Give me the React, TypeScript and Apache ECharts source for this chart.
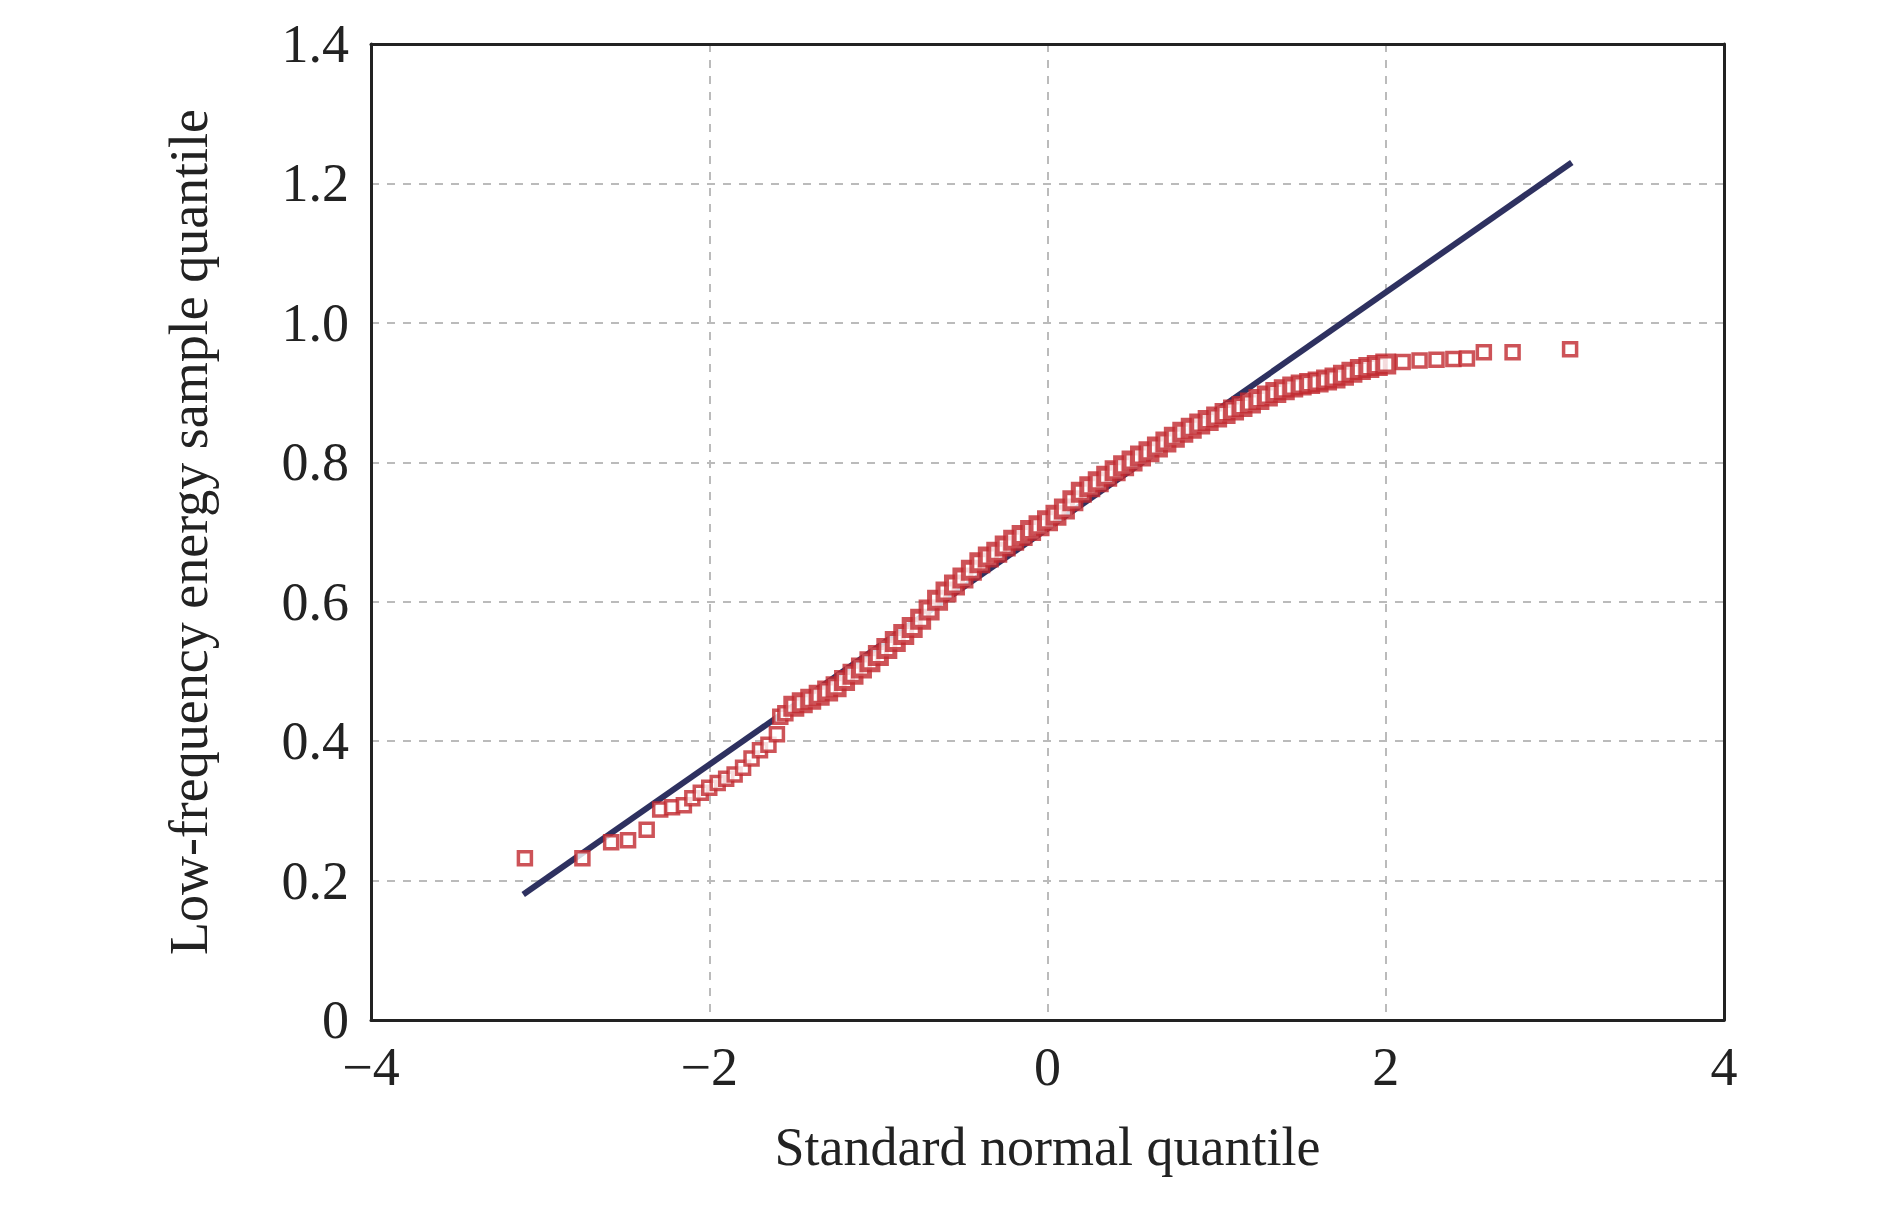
import { useEffect, useRef } from "react";
import * as echarts from "echarts";

const xTail = [-3.09, -2.75, -2.58, -2.48, -2.37, -2.29, -2.22, -2.15, -2.1, -2.05, -2.0, -1.95, -1.9, -1.85, -1.8, -1.75, -1.7, -1.65, -1.6, -1.58, -1.55];
const yTail = [0.232, 0.232, 0.255, 0.258, 0.273, 0.302, 0.305, 0.308, 0.318, 0.326, 0.333, 0.34, 0.346, 0.352, 0.362, 0.375, 0.387, 0.395, 0.41, 0.435, 0.44];

const xMid = [
  -1.5, -1.45, -1.4, -1.35, -1.3, -1.25, -1.2, -1.15, -1.1, -1.05, -1.0, -0.95, -0.9, -0.85, -0.8, -0.75, -0.7, -0.65,
  -0.6, -0.55, -0.5, -0.45, -0.4, -0.35, -0.3, -0.25, -0.2, -0.15, -0.1, -0.05, 0, 0.05, 0.1, 0.15, 0.2, 0.25, 0.3,
  0.35, 0.4, 0.45, 0.5, 0.55, 0.6, 0.65, 0.7, 0.75, 0.8, 0.85, 0.9, 0.95, 1.0, 1.05, 1.1, 1.15, 1.2, 1.25, 1.3, 1.35,
  1.4, 1.45, 1.5, 1.55, 1.6, 1.65, 1.7, 1.75, 1.8, 1.85, 1.9, 1.95, 2.0,
];
const yMid = [
  0.45, 0.455, 0.46, 0.466, 0.472, 0.478, 0.487, 0.496, 0.505, 0.514, 0.523, 0.533, 0.543, 0.553, 0.563, 0.575, 0.588,
  0.602, 0.614, 0.624, 0.634, 0.645, 0.656, 0.664, 0.671, 0.68, 0.688, 0.695, 0.702, 0.709, 0.716, 0.724, 0.733, 0.745,
  0.757, 0.765, 0.772, 0.78, 0.788, 0.795, 0.802, 0.809, 0.815, 0.822, 0.829, 0.836, 0.843, 0.849, 0.855, 0.86, 0.865,
  0.87, 0.875, 0.88, 0.885, 0.89, 0.895, 0.9, 0.904, 0.908, 0.911, 0.913, 0.915, 0.918, 0.921, 0.925, 0.929, 0.933,
  0.936, 0.939, 0.941,
];

const xUpper = [2.1, 2.2, 2.3, 2.4, 2.48, 2.58, 2.75, 3.09];
const yUpper = [0.944, 0.946, 0.947, 0.948, 0.949, 0.958, 0.958, 0.962];

const refLine = [
  [-3.1, 0.18],
  [3.1, 1.23],
];

export default function App() {
  const chartRef = useRef<HTMLDivElement>(null);

  useEffect(() => {
    if (!chartRef.current) return;
    const chart = echarts.init(chartRef.current, undefined, { renderer: "svg" });
    const font = "'Liberation Serif', 'Times New Roman', serif";
    const tailPts = xTail.map((x, i) => [x, yTail[i]]);
    const midPts = xMid.map((x, i) => [x, yMid[i]]);
    const upperPts = xUpper.map((x, i) => [x, yUpper[i]]);
    const dash = { color: "#bbb", type: [8, 8], width: 2 };
    const frame = { show: true, onZero: false, lineStyle: { color: "#222", width: 3 } };
    const sq = { color: "#fff", borderColor: "#c0282e", borderWidth: 3.5 };

    chart.setOption({
      animation: false,
      textStyle: { fontFamily: font },
      grid: { left: 363, right: 158, top: 36, bottom: 183 },
      xAxis: [
        {
          type: "value",
          min: -4,
          max: 4,
          interval: 2,
          name: "Standard normal quantile",
          nameLocation: "middle",
          nameGap: 100,
          nameTextStyle: { fontSize: 54, color: "#222", fontFamily: font },
          axisLine: frame,
          axisTick: { show: false },
          axisLabel: {
            fontSize: 54,
            color: "#222",
            margin: 20,
            fontFamily: font,
            formatter: (v: number) => (v < 0 ? "\u2212" + Math.abs(v) : String(v)),
          },
          splitLine: { lineStyle: dash },
        },
        {
          type: "value",
          position: "top",
          min: -4,
          max: 4,
          axisLine: frame,
          axisTick: { show: false },
          axisLabel: { show: false },
          splitLine: { show: false },
        },
      ],
      yAxis: [
        {
          type: "value",
          min: 0,
          max: 1.4,
          interval: 0.2,
          name: "Low-frequency energy sample quantile",
          nameLocation: "middle",
          nameGap: 155,
          nameTextStyle: { fontSize: 54, color: "#222", fontFamily: font },
          axisLine: frame,
          axisTick: { show: false },
          axisLabel: {
            fontSize: 54,
            color: "#222",
            margin: 22,
            fontFamily: font,
            formatter: (v: number) => (v === 0 ? "0" : v.toFixed(1)),
          },
          splitLine: { lineStyle: dash },
        },
        {
          type: "value",
          position: "right",
          min: 0,
          max: 1.4,
          axisLine: frame,
          axisTick: { show: false },
          axisLabel: { show: false },
          splitLine: { show: false },
        },
      ],
      series: [
        {
          type: "line",
          data: refLine,
          showSymbol: false,
          lineStyle: { color: "#2e3160", width: 6 },
          z: 2,
        },
        {
          type: "scatter",
          data: [...tailPts, ...upperPts],
          symbol: "rect",
          symbolSize: 13,
          itemStyle: sq,
          z: 3,
        },
        {
          type: "scatter",
          data: midPts,
          symbol: "rect",
          symbolSize: 16,
          itemStyle: { ...sq, borderWidth: 5 },
          z: 3,
        },
      ],
    });

    return () => chart.dispose();
  }, []);

  return <div ref={chartRef} style={{ width: 1874, height: 1195, background: "#fff" }} />;
}
